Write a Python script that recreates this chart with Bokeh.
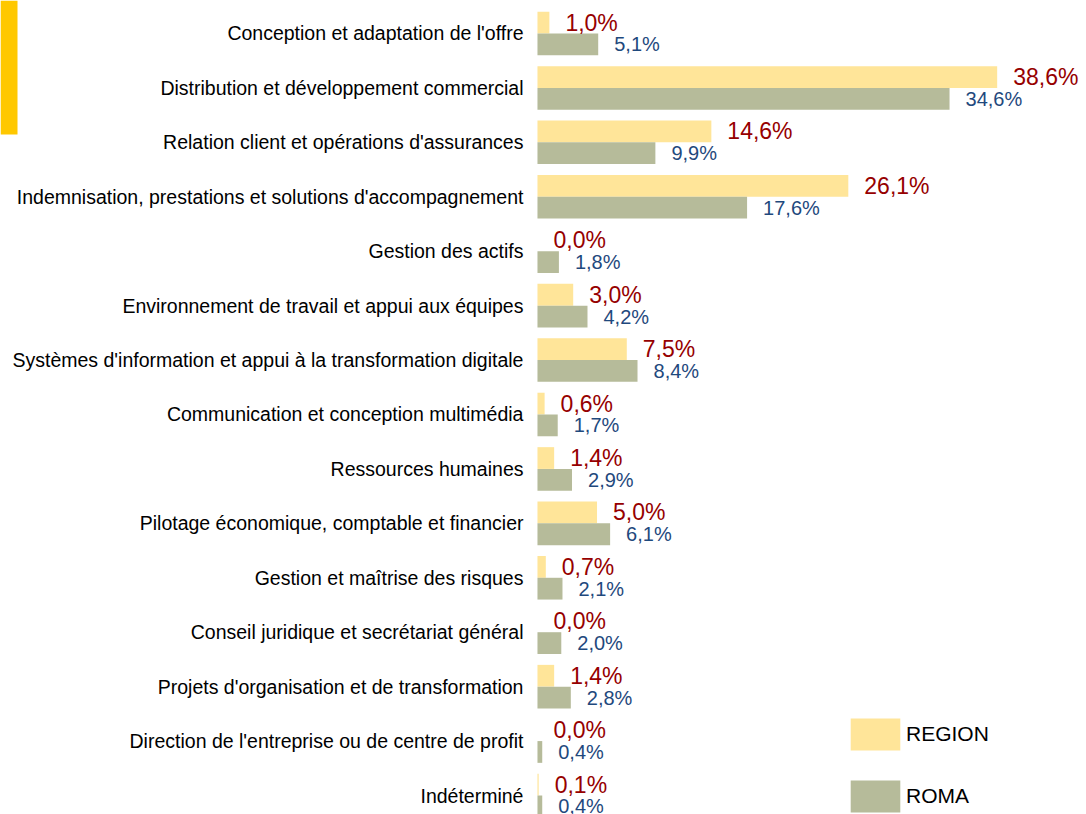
from bokeh.plotting import figure
from bokeh.models import (ColumnDataSource, Range1d, FixedTicker, Legend, LegendItem,
                          BoxAnnotation)
from bokeh.core.properties import value
from bokeh.embed import file_html
from bokeh.resources import INLINE

categories = [
    "Conception et adaptation de l'offre",
    "Distribution et développement commercial",
    "Relation client et opérations d'assurances",
    "Indemnisation, prestations et solutions d'accompagnement",
    "Gestion des actifs",
    "Environnement de travail et appui aux équipes",
    "Systèmes d'information et appui à la transformation digitale",
    "Communication et conception multimédia",
    "Ressources humaines",
    "Pilotage économique, comptable et financier",
    "Gestion et maîtrise des risques",
    "Conseil juridique et secrétariat général",
    "Projets d'organisation et de transformation",
    "Direction de l'entreprise ou de centre de profit",
    "Indéterminé",
]
region = [1.0, 38.6, 14.6, 26.1, 0.0, 3.0, 7.5, 0.6, 1.4, 5.0, 0.7, 0.0, 1.4, 0.0, 0.1]
roma = [5.1, 34.6, 9.9, 17.6, 1.8, 4.2, 8.4, 1.7, 2.9, 6.1, 2.1, 2.0, 2.8, 0.4, 0.4]
series_names = ["REGION", "ROMA"]

REGION_COLOR = "#FFE599"
ROMA_COLOR = "#B6BB9A"
REGION_TXT = "#960000"
ROMA_TXT = "#1F497D"

pos = list(range(len(categories)))

def fmt(v):
    return f"{v:.1f}".replace(".", ",") + "%"

src_region = ColumnDataSource(dict(y=[i - 0.2 for i in pos], v=region,
                                   lab=[fmt(v) for v in region]))
src_roma = ColumnDataSource(dict(y=[i + 0.2 for i in pos], v=roma,
                                 lab=[fmt(v) for v in roma]))

W, H = 1086, 814
# frame covers the whole canvas; the category axis sits at x = 0
p = figure(width=W, height=H, output_backend="svg", toolbar_location=None,
           x_range=Range1d(-45.088, 46.1), y_range=Range1d(14.349, -0.606),
           min_border_left=0, min_border_right=0, min_border_top=0,
           min_border_bottom=0, outline_line_color=None)
p.grid.visible = False
p.xaxis.visible = False

r1 = p.hbar(y="y", right="v", left=0, height=0.4, source=src_region,
            fill_color=REGION_COLOR, line_color=None)
r2 = p.hbar(y="y", right="v", left=0, height=0.4, source=src_roma,
            fill_color=ROMA_COLOR, line_color=None)

p.text(x="v", y="y", text="lab", source=src_region, x_offset=16,
       text_align="left", text_baseline="middle", text_color=REGION_TXT,
       text_font=value("Liberation Sans"), text_font_size="23px")
p.text(x="v", y="y", text="lab", source=src_roma, x_offset=16,
       text_align="left", text_baseline="middle", text_color=ROMA_TXT,
       text_font=value("Liberation Sans"), text_font_size="20px")

ax = p.yaxis[0]
ax.fixed_location = 0
ax.ticker = FixedTicker(ticks=pos)
ax.major_label_overrides = {i: c for i, c in zip(pos, categories)}
ax.axis_line_color = None
ax.major_tick_line_color = None
ax.minor_tick_line_color = None
ax.major_tick_out = 0
ax.major_tick_in = 0
ax.major_label_standoff = 14
ax.major_label_text_font = "Liberation Sans"
ax.major_label_text_font_size = "19.5px"
ax.major_label_text_color = "#000000"

legend = Legend(items=[LegendItem(label=series_names[0], renderers=[r1]),
                       LegendItem(label=series_names[1], renderers=[r2])],
                location=(844, -2), orientation="vertical",
                glyph_width=62, glyph_height=40, spacing=22, padding=0, margin=0,
                label_standoff=0, label_text_font="Liberation Sans",
                label_text_font_size="21px", label_text_color="#000000",
                label_text_baseline="middle",
                border_line_color=None, background_fill_alpha=0)
p.add_layout(legend)

# decorative yellow tab at the top-left corner of the page
deco = BoxAnnotation(left=0, right=17, top=814, bottom=680,
                     left_units="screen", right_units="screen",
                     top_units="screen", bottom_units="screen",
                     fill_color="#FFC800", fill_alpha=1.0, line_color=None)
p.add_layout(deco)

open("out.html", "w").write(file_html(p, INLINE))
